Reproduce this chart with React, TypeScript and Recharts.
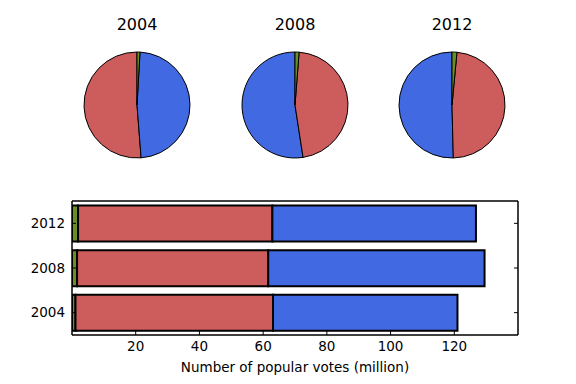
import React from 'react';
import { PieChart, Pie, Cell, BarChart, Bar, XAxis, YAxis } from 'recharts';

const years = ['2004', '2008', '2012'];
const otherVotes = [1.1, 1.6, 1.9];
const repVotes = [62.0, 60.0, 61.0];
const demVotes = [57.9, 67.9, 63.9];
const xTicks = [20, 40, 60, 80, 100, 120];

const RED = '#CD5C5C';
const BLUE = '#4169E1';
const GREEN = '#6B8E23';
const FONT = '"DejaVu Sans", sans-serif';

// pie slices go counterclockwise from the top: winner, loser, other
function pieSlices(i: number) {
  const parties = [
    { name: 'Democrat', value: demVotes[i], color: BLUE },
    { name: 'Republican', value: repVotes[i], color: RED },
  ].sort((a, b) => b.value - a.value);
  return [...parties, { name: 'Other', value: otherVotes[i], color: GREEN }];
}

const barData = years.map((year, i) => ({
  year,
  other: otherVotes[i],
  rep: repVotes[i],
  dem: demVotes[i],
}));

const pieCenters = [137, 295, 452];

// tick marks only, no label (top and right spines)
const NoLabel = () => <g />;

export default function App() {
  const tickStyle = { fill: '#000', fontSize: 13.5, fontFamily: FONT };
  const spine = { stroke: '#000', strokeWidth: 1.5 };
  const tickLine = { stroke: '#000', strokeWidth: 1 };
  return (
    <div style={{ position: 'fixed', left: 0, top: 0, width: 576, height: 384, background: '#fff', fontFamily: FONT }}>
      {years.map((y, i) => (
        <div
          key={y}
          style={{
            position: 'absolute',
            left: pieCenters[i] - 50,
            top: 16,
            width: 100,
            height: 18,
            lineHeight: '18px',
            fontSize: 16,
            textAlign: 'center',
            color: '#000',
          }}
        >
          {y}
        </div>
      ))}
      <div style={{ position: 'absolute', left: 0, top: 0 }}>
        <PieChart width={576} height={190} margin={{ top: 0, right: 0, bottom: 0, left: 0 }}>
          {years.map((y, i) => (
            <Pie
              key={y}
              data={pieSlices(i)}
              dataKey="value"
              cx={pieCenters[i]}
              cy={105}
              outerRadius={53}
              startAngle={90}
              endAngle={450}
              stroke="#000"
              strokeWidth={1}
              isAnimationActive={false}
            >
              {pieSlices(i).map((s) => (
                <Cell key={s.name} fill={s.color} />
              ))}
            </Pie>
          ))}
        </PieChart>
      </div>
      <div style={{ position: 'absolute', left: 0, top: 190 }}>
        <BarChart
          width={576}
          height={194}
          data={barData}
          layout="vertical"
          margin={{ top: 10, right: 57, bottom: 19, left: 0 }}
        >
          <XAxis
            type="number"
            domain={[0, 140]}
            ticks={xTicks}
            allowDataOverflow
            height={30}
            axisLine={spine}
            tickLine={tickLine}
            tickSize={-4}
            tickMargin={10}
            tick={tickStyle}
            label={{
              value: 'Number of popular votes (million)',
              position: 'bottom',
              offset: -3,
              style: { fill: '#000', fontSize: 13.5, fontFamily: FONT },
            }}
          />
          <XAxis
            xAxisId="top"
            type="number"
            orientation="top"
            domain={[0, 140]}
            ticks={xTicks}
            height={1}
            axisLine={spine}
            tickLine={tickLine}
            tickSize={-4}
            tick={NoLabel}
          />
          <YAxis
            type="category"
            dataKey="year"
            reversed
            width={72}
            axisLine={spine}
            tickLine={tickLine}
            tickSize={-4}
            tickMargin={11}
            tick={tickStyle}
          />
          <YAxis
            yAxisId="right"
            type="category"
            dataKey="year"
            orientation="right"
            reversed
            width={1}
            axisLine={spine}
            tickLine={tickLine}
            tickSize={-4}
            tick={NoLabel}
          />
          <Bar dataKey="other" stackId="a" fill={GREEN} stroke="#000" strokeWidth={2} isAnimationActive={false} />
          <Bar dataKey="rep" stackId="a" fill={RED} stroke="#000" strokeWidth={2} isAnimationActive={false} />
          <Bar dataKey="dem" stackId="a" fill={BLUE} stroke="#000" strokeWidth={2} isAnimationActive={false} />
        </BarChart>
      </div>
    </div>
  );
}
